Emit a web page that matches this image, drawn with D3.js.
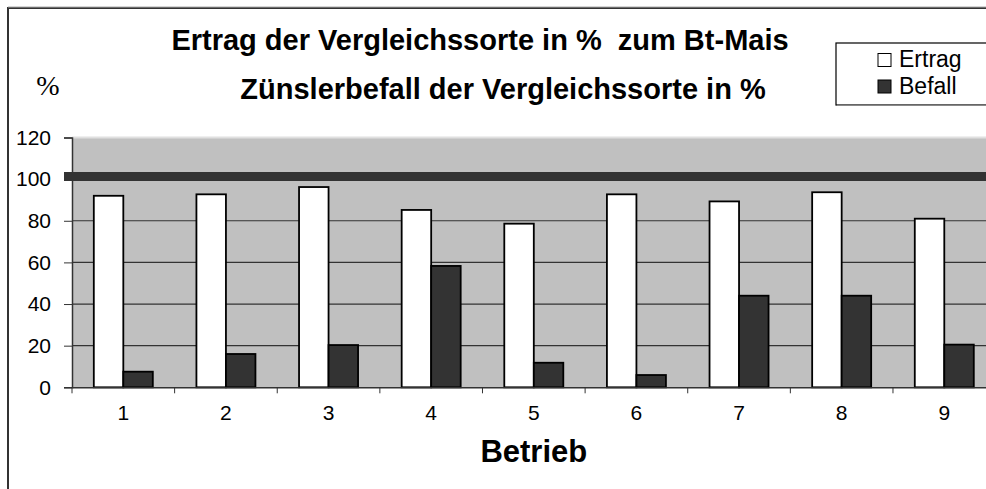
<!DOCTYPE html>
<html>
<head>
<meta charset="utf-8">
<script src="https://cdn.jsdelivr.net/npm/d3@7"></script>
<style>
  body { margin: 0; background: #fff; }
  text { font-family: "Liberation Sans", Arial, sans-serif; }
</style>
</head>
<body>
<svg id="chart" width="986" height="489"></svg>
<script>
// chart data
var betriebe = ["1", "2", "3", "4", "5", "6", "7", "8", "9"];
var seriesNames = ["Ertrag", "Befall"];
var ertrag = [92, 92.7, 96.2, 85.2, 78.6, 92.7, 89.3, 93.7, 81];
var befall = [7.5, 16, 20.3, 58.3, 11.8, 5.9, 44, 44, 20.5];
var yTicks = [0, 20, 40, 60, 80, 100, 120];
var referenceValue = 100;
var titleLines = ["Ertrag der Vergleichssorte in %  zum Bt-Mais", "Zünslerbefall der Vergleichssorte in %"];

var seriesColors = {"Ertrag": "#ffffff", "Befall": "#333333"};

var svg = d3.select("#chart");
var plotLeft = 72, plotRight = 995.6, plotTop = 137.5, plotBottom = 387.3;

var rows = betriebe.map(function(b, i) {
  return {betrieb: b, Ertrag: ertrag[i], Befall: befall[i]};
});

var x0 = d3.scaleBand()
  .domain(betriebe)
  .range([plotLeft, plotRight])
  .paddingInner(0.425)
  .paddingOuter(0.2125);

var x1 = d3.scaleBand()
  .domain(seriesNames)
  .range([0, x0.bandwidth()]);

var y = d3.scaleLinear()
  .domain([0, 120])
  .range([plotBottom, plotTop]);

// outer frame
svg.append("rect")
  .attr("x", 8).attr("y", 8)
  .attr("width", 1000).attr("height", 500)
  .attr("fill", "none")
  .attr("stroke", "#333")
  .attr("stroke-width", 2);
svg.append("line")
  .attr("x1", 8).attr("x2", 986).attr("y1", 7).attr("y2", 7)
  .attr("stroke", "#aaa").attr("stroke-width", 1);

// plot background
svg.append("rect")
  .attr("x", plotLeft).attr("y", plotTop)
  .attr("width", plotRight - plotLeft).attr("height", plotBottom - plotTop)
  .attr("fill", "#c0c0c0");
svg.append("line")
  .attr("x1", plotLeft).attr("x2", plotRight)
  .attr("y1", y(120)).attr("y2", y(120))
  .attr("stroke", "#e0e0e0").attr("stroke-width", 2);

// gridlines
svg.append("g")
  .selectAll("line")
  .data(yTicks.filter(function(t) { return t > 0 && t < 120; }))
  .enter().append("line")
  .attr("x1", plotLeft).attr("x2", plotRight)
  .attr("y1", function(d) { return y(d); })
  .attr("y2", function(d) { return y(d); })
  .attr("stroke", "#333")
  .attr("stroke-width", 1.2);

// y axis
var yAxis = svg.append("g")
  .attr("transform", "translate(" + plotLeft + ",0)")
  .call(d3.axisLeft(y).tickValues(yTicks).tickSize(8).tickPadding(13));
yAxis.select(".domain").attr("stroke", "#333").attr("stroke-width", 1.5);
yAxis.selectAll(".tick line").attr("stroke", "#333");
yAxis.selectAll(".tick text")
  .style("font-size", "21px")
  .attr("fill", "#000");

// bars
var groups = svg.append("g")
  .selectAll("g")
  .data(rows)
  .enter().append("g")
  .attr("transform", function(d) { return "translate(" + x0(d.betrieb) + ",0)"; });

groups.selectAll("rect")
  .data(function(d) { return seriesNames.map(function(k) { return {key: k, value: d[k]}; }); })
  .enter().append("rect")
  .attr("x", function(d) { return x1(d.key); })
  .attr("y", function(d) { return y(d.value); })
  .attr("width", x1.bandwidth())
  .attr("height", function(d) { return y(0) - y(d.value); })
  .attr("fill", function(d) { return seriesColors[d.key]; })
  .attr("stroke", "#000")
  .attr("stroke-width", 1.8);

// reference line (Bt-Mais = 100 %)
svg.append("line")
  .attr("x1", plotLeft - 8).attr("x2", plotRight)
  .attr("y1", y(referenceValue) - 2.6).attr("y2", y(referenceValue) - 2.6)
  .attr("stroke", "#333")
  .attr("stroke-width", 9);

// x axis
var xAxis = svg.append("g")
  .attr("transform", "translate(0," + plotBottom + ")")
  .call(d3.axisBottom(x0).tickSize(0).tickPadding(18));
xAxis.select(".domain").attr("stroke", "#333").attr("stroke-width", 1.5);
xAxis.selectAll(".tick text")
  .style("font-size", "21px")
  .attr("fill", "#000");

// category separators
xAxis.selectAll(".sep")
  .data(d3.range(betriebe.length + 1))
  .enter().append("line")
  .attr("class", "sep")
  .attr("x1", function(i) { return plotLeft + i * x0.step(); })
  .attr("x2", function(i) { return plotLeft + i * x0.step(); })
  .attr("y1", 0).attr("y2", 6)
  .attr("stroke", "#333");

svg.append("text")
  .attr("x", (x0("5") + x0.bandwidth() / 2))
  .attr("y", 461.5)
  .attr("text-anchor", "middle")
  .style("font-size", "31px")
  .style("font-weight", "bold")
  .text("Betrieb");

// titles
svg.append("text")
  .attr("x", 480).attr("y", 50)
  .attr("text-anchor", "middle")
  .style("white-space", "pre")
  .style("font-size", "29px")
  .style("font-weight", "bold")
  .text(titleLines[0]);
svg.append("text")
  .attr("x", 503).attr("y", 99)
  .attr("text-anchor", "middle")
  .style("font-size", "29px")
  .style("font-weight", "bold")
  .text(titleLines[1]);

svg.append("text")
  .attr("x", 48).attr("y", 95)
  .attr("text-anchor", "middle")
  .style("font-family", "'Liberation Serif', 'DejaVu Serif', serif")
  .style("font-size", "28px")
  .text("%");

// legend
var legend = svg.append("g");
legend.append("rect")
  .attr("x", 836).attr("y", 43)
  .attr("width", 160).attr("height", 62)
  .attr("fill", "#fff")
  .attr("stroke", "#000")
  .attr("stroke-width", 1.2);
legend.append("line")
  .attr("x1", 837).attr("x2", 986).attr("y1", 105.5).attr("y2", 105.5)
  .attr("stroke", "#888").attr("stroke-width", 1);

var legendItems = legend.selectAll(".item")
  .data(seriesNames)
  .enter().append("g")
  .attr("class", "item")
  .attr("transform", function(d, i) { return "translate(878," + (53.5 + i * 26.5) + ")"; });
legendItems.append("rect")
  .attr("width", 13).attr("height", 13)
  .attr("fill", function(d) { return seriesColors[d]; })
  .attr("stroke", "#000")
  .attr("stroke-width", 1);
legendItems.append("text")
  .attr("x", 21).attr("y", 13.5)
  .style("font-size", "23px")
  .text(function(d) { return d; });
</script>
</body>
</html>
